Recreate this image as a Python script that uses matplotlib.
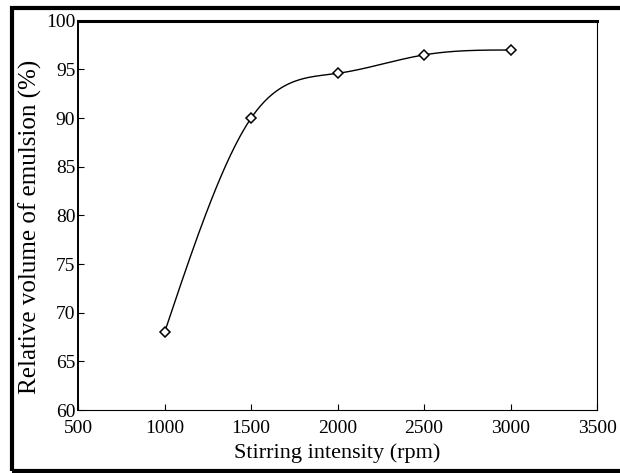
import numpy as np
import matplotlib
matplotlib.use("Agg")
import matplotlib.pyplot as plt
from matplotlib.patches import Rectangle

# data
rpm = [1000, 1500, 2000, 2500, 3000]
volume = [68.0, 90.0, 94.6, 96.5, 97.0]
xticks = [500, 1000, 1500, 2000, 2500, 3000, 3500]
yticks = [60, 65, 70, 75, 80, 85, 90, 95, 100]


def natural_spline(x, y, xs):
    # plain natural cubic spline, only used to draw the smooth line
    x = np.asarray(x, float)
    y = np.asarray(y, float)
    n = len(x)
    h = np.diff(x)
    A = np.zeros((n, n))
    b = np.zeros(n)
    A[0, 0] = A[-1, -1] = 1
    for i in range(1, n - 1):
        A[i, i - 1] = h[i - 1]
        A[i, i] = 2 * (h[i - 1] + h[i])
        A[i, i + 1] = h[i]
        b[i] = 3 * ((y[i + 1] - y[i]) / h[i] - (y[i] - y[i - 1]) / h[i - 1])
    c = np.linalg.solve(A, b)
    out = np.empty_like(xs)
    for k, xv in enumerate(xs):
        i = min(max(np.searchsorted(x, xv) - 1, 0), n - 2)
        d = xv - x[i]
        bi = (y[i + 1] - y[i]) / h[i] - h[i] * (2 * c[i] + c[i + 1]) / 3
        di = (c[i + 1] - c[i]) / (3 * h[i])
        out[k] = y[i] + bi * d + c[i] * d ** 2 + di * d ** 3
    return out


plt.rcParams['font.family'] = ['Liberation Serif', 'DejaVu Serif']

fig = plt.figure(figsize=(6.2, 4.73), dpi=100)
ax = fig.add_axes([0.126, 0.133, 0.837, 0.823])

xs = np.linspace(rpm[0], rpm[-1], 300)
ax.plot(xs, natural_spline(rpm, volume, xs), color='black', lw=1.0)
ax.plot(rpm, volume, linestyle='none', marker='D', markersize=5.5,
        markerfacecolor='white', markeredgecolor='black', markeredgewidth=1.1)

ax.set_xlim(500, 3500)
ax.set_ylim(60, 100)
ax.set_xticks(xticks)
ax.set_yticks(yticks)
ax.tick_params(direction='in', length=4, width=0.8, labelsize=14,
               colors='black')
ax.tick_params(axis='x', pad=7)
ax.tick_params(axis='y', pad=2)

ax.text(0.5, -0.085, "Stirring intensity (rpm)", transform=ax.transAxes,
        fontsize=16, ha='center', va='top')
ax.text(-0.093, 0.47, "Relative volume of emulsion (%)", transform=ax.transAxes,
        fontsize=18, ha='center', va='center', rotation=90)

ax.spines['top'].set_linewidth(2.2)
ax.spines['left'].set_linewidth(1.4)
ax.spines['bottom'].set_linewidth(0.8)
ax.spines['right'].set_linewidth(0.8)

# scanned-page frame around the figure
fig.patches.append(Rectangle((0.019, 0.004), 1.02, 0.98, transform=fig.transFigure,
                             fill=False, edgecolor='black', linewidth=3.0))

fig.savefig("out.png", dpi=100)
